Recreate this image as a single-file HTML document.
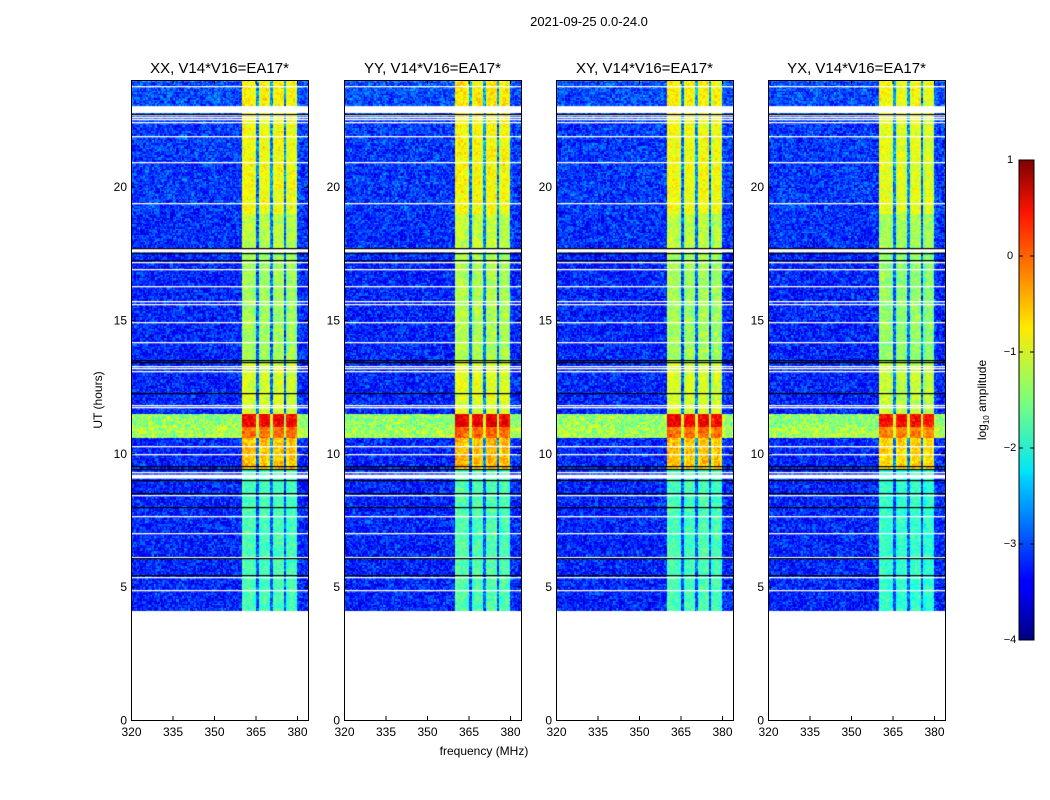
<!DOCTYPE html>
<html><head><meta charset="utf-8">
<style>
html,body{margin:0;padding:0;background:#fff;}
body{width:1050px;height:800px;position:relative;overflow:hidden;font-family:"Liberation Sans",sans-serif;}
svg text{font-family:"Liberation Sans",sans-serif;}
canvas{position:absolute;}
</style></head>
<body>
<canvas id="c0" width="177" height="640" style="left:131px;top:80px"></canvas>
<canvas id="c1" width="177" height="640" style="left:344px;top:80px"></canvas>
<canvas id="c2" width="177" height="640" style="left:556px;top:80px"></canvas>
<canvas id="c3" width="177" height="640" style="left:768px;top:80px"></canvas>
<svg id="ax" width="1050" height="800" style="position:absolute;left:0;top:0">
<defs><linearGradient id="jet" x1="0" y1="1" x2="0" y2="0">
<stop offset="0" stop-color="#00007f"/><stop offset="0.11" stop-color="#0000ff"/><stop offset="0.125" stop-color="#0000ff"/>
<stop offset="0.34" stop-color="#00d4ff"/><stop offset="0.35" stop-color="#00e5f7"/><stop offset="0.5" stop-color="#7dff7a"/>
<stop offset="0.65" stop-color="#ffea00"/><stop offset="0.89" stop-color="#ff1300"/><stop offset="1" stop-color="#7f0000"/>
</linearGradient></defs>
<text x="589" y="26" font-size="13" text-anchor="middle">2021-09-25 0.0-24.0</text>
<text x="484" y="755" font-size="12" text-anchor="middle">frequency (MHz)</text>
<text x="102" y="400" font-size="12" text-anchor="middle" transform="rotate(-90 102 400)">UT (hours)</text>
<rect x="1019" y="160" width="15" height="480" fill="url(#jet)" stroke="#000" stroke-width="1"/>
<text x="986" y="400" font-size="12" text-anchor="middle" transform="rotate(-90 986 400)">log<tspan font-size="8" dy="3">10</tspan><tspan dy="-3"> amplitude</tspan></text>
<g id="cbt"></g>
</svg>
<script>
// ---- data ----
const panelTitles = ["XX, V14*V16=EA17*","YY, V14*V16=EA17*","XY, V14*V16=EA17*","YX, V14*V16=EA17*"];
const xTicks = [320,335,350,365,380];
const yTicks = [0,5,10,15,20];
const cbTicks = [1,0,-1,-2,-3,-4];
const cbLabels = ["1","0","\u22121","\u22122","\u22123","\u22124"];
// per-channel band gain (64 x 1 MHz channels, 320..384 MHz)
const channelGain = [0,0,0,0,0,0,0,0,0,0,0,0,0,0,0,0,0,0,0,0,0,0,0,0,0,0,0,0,0,0,0,0,0,0,0,0,0,0,0,0,
  1,1,1,1,0.95,0.15,0.9,1,1,0.95,0.2,0.95,1,1,1,0.15,0.9,1,1,0.9,0.05,0,0,0];
// time segments: start hour, end hour, background log amp, band log amp
const segStart = [4.12, 9.4, 10.6, 11.0, 11.5, 13.4, 17.7, 19.0, 22.7];
const segEnd   = [9.4, 10.6, 11.0, 11.5, 13.4, 17.6, 19.0, 22.7, 24.0];
const segBg    = [-3.2, -3.2, -1.3, -1.4, -3.2, -3.2, -3.15, -3.1, -3.0];
const segBand  = [-1.75, -0.55, -0.15, 0.45, -1.05, -1.3, -1.2, -0.9, -0.8];
const panelBandShift = [0, 0.05, 0, -0.1];
// flagged (white) rows in hours
const whiteRows = [23.77,22.69,22.61,22.54,22.43,21.9,20.93,19.39,17.59,17.18,16.91,16.28,15.71,15.6,14.93,14.18,13.28,13.2,13.09,11.81,11.74,10.28,9.98,9.3,8.44,7.65,7.01,6.11,5.36,4.88];
const whiteBandStart = [22.76, 9.05];
const whiteBandEnd = [23.02, 9.2];
// black (zero) rows in hours
const blackRows = [22.73,17.7,17.51,17.25,13.5,13.43,12.26,9.53,9.41,9.0,8.51,7.99,6.08,5.44];

// ---- scales ----
const PW=177, PH=640, LEFTS=[131,344,556,768], TOP=80;
const fMin=320, fMax=320+177/2.767;
const xs = f => (f-fMin)/(fMax-fMin)*PW;
const ys = h => PH - h/24*PH;
const cbY = v => 160 + (1-v)/5*480;
function jet(t){
  t=Math.max(0,Math.min(1,t));
  const r=Math.max(0,Math.min(1,Math.min(4*t-1.5,-4*t+4.5)));
  const g=Math.max(0,Math.min(1,Math.min(4*t-0.5,-4*t+3.5)));
  const b=Math.max(0,Math.min(1,Math.min(4*t+0.5,-4*t+2.5)));
  return [r*255|0,g*255|0,b*255|0];
}
function hash(a,b,c){let h=(a*374761393+b*668265263+c*2147483647)|0;h=(h^(h>>>13))*1274126177;h=h^(h>>>16);return ((h>>>0)%1000)/1000;}

for(let p=0;p<4;p++){
  const cv=document.getElementById('c'+p), ctx=cv.getContext('2d');
  const img=ctx.createImageData(PW,PH), d=img.data;
  for(let y=0;y<PH;y++){
    const h=(PH-y)/PH*24;
    let si=-1;
    for(let s=0;s<segStart.length;s++) if(h>=segStart[s]&&h<segEnd[s]) si=s;
    for(let x=0;x<PW;x++){
      const i=(y*PW+x)*4;
      let col=[255,255,255];
      if(si>=0){
        const ch=Math.min(63,Math.floor(x/PW*64));
        const g=channelGain[ch];
        const band=segBand[si]+panelBandShift[p];
        const n=(hash(Math.floor(x/1.5),Math.floor(y/1.5),p)-0.5)*0.8 + (hash(ch,Math.floor(y/3),p+7)-0.5)*0.35;
        let v=segBg[si]+g*(band-segBg[si])+n*(g>0.5?0.6:1);
        col=jet((v+4)/5);
      }
      d[i]=col[0];d[i+1]=col[1];d[i+2]=col[2];d[i+3]=255;
    }
  }
  ctx.putImageData(img,0,0);
  ctx.fillStyle='#fff';
  whiteRows.forEach(h=>{ctx.fillRect(0,Math.round(ys(h)),PW,1.3);});
  whiteBandStart.forEach((h,k)=>{ctx.fillRect(0,ys(whiteBandEnd[k]),PW,ys(h)-ys(whiteBandEnd[k]));});
  ctx.fillStyle='#000';
  blackRows.forEach(h=>{ctx.fillRect(0,Math.round(ys(h)),PW,1.2);});
}

// ---- axes ----
const NS='http://www.w3.org/2000/svg', svg=document.getElementById('ax');
function el(tag,attrs,parent){const e=document.createElementNS(NS,tag);for(const k in attrs)e.setAttribute(k,attrs[k]);(parent||svg).appendChild(e);return e;}
for(let p=0;p<4;p++){
  const L=LEFTS[p];
  const g=el('g',{});
  
  
  const fr=el('rect',{x:L+0.5,y:TOP+0.5,width:PW,height:PH,fill:'none',stroke:'#000','stroke-width':1},g);
  
  
  const t=el('text',{x:L+PW/2,y:73,'font-size':15,'text-anchor':'middle'},g);
  t.textContent=panelTitles[p];
  
  
  xTicks.forEach(f=>{
    const x=L+xs(f)+0.5;
    el('line',{x1:x,x2:x,y1:TOP+PH,y2:TOP+PH-4,stroke:'#000'},g);
    el('line',{x1:x,x2:x,y1:TOP,y2:TOP+4,stroke:'#000'},g);
    const tl=el('text',{x:x,y:736,'font-size':12,'text-anchor':'middle'},g);
    tl.textContent=f;
    
    
  });
  yTicks.forEach(h=>{
    const y=TOP+ys(h)+0.5;
    el('line',{x1:L,x2:L+4,y1:y,y2:y,stroke:'#000'},g);
    el('line',{x1:L+PW,x2:L+PW-4,y1:y,y2:y,stroke:'#000'},g);
    const tl=el('text',{x:L-4,y:y+4,'font-size':12,'text-anchor':'end'},g);
    tl.textContent=h;
    
    
  });
}
const cbg=document.getElementById('cbt');
cbTicks.forEach((v,k)=>{
  const y=cbY(v);
  el('line',{x1:1019,x2:1023,y1:y,y2:y,stroke:'#000'},cbg);
  el('line',{x1:1034,x2:1030,y1:y,y2:y,stroke:'#000'},cbg);
  const tl=el('text',{x:1010,y:y+3,'font-size':11,'text-anchor':'middle'},cbg);
  tl.textContent=cbLabels[k];
  
  
});
</script>
</body></html>
